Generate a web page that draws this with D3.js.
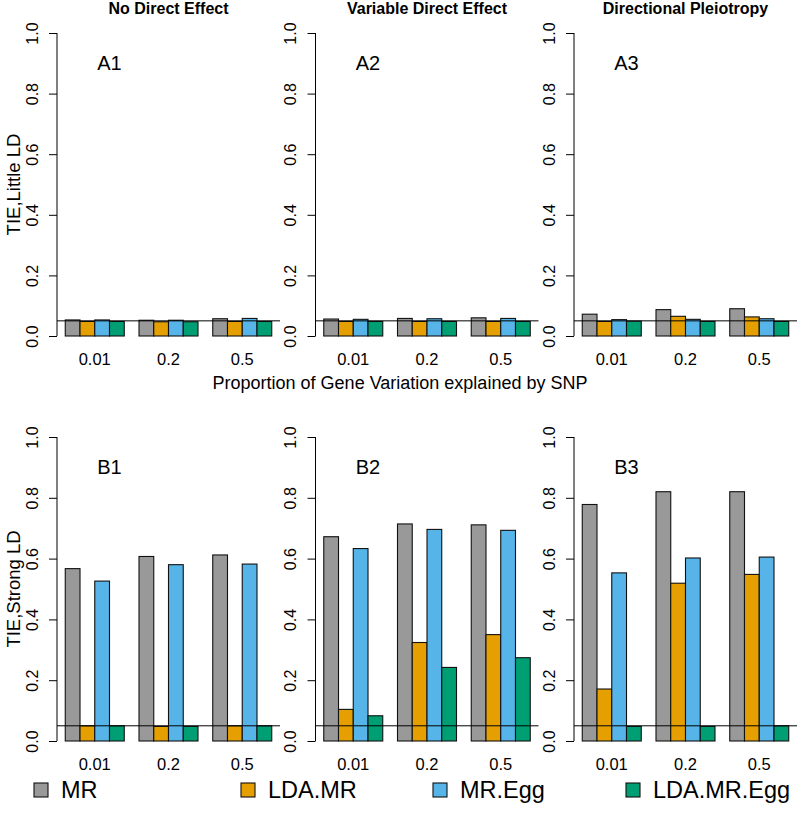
<!DOCTYPE html>
<html>
<head>
<meta charset="utf-8">
<script src="https://cdn.jsdelivr.net/npm/d3@7"></script>
<style>
  html, body { margin: 0; padding: 0; background: #fff; }
  svg { display: block; font-family: "Liberation Sans", Arial, sans-serif; }
</style>
</head>
<body>
<svg id="chart" width="800" height="813"></svg>
<script>
// ---------------- data ----------------
const groups = ["0.01", "0.2", "0.5"];
const series = ["MR", "LDA.MR", "MR.Egg", "LDA.MR.Egg"];
const seriesColors = ["#999999", "#E69F00", "#56B4E9", "#009E73"];
const panelTitles = ["No Direct Effect", "Variable Direct Effect", "Directional Pleiotropy"];
const rowLabels = ["TIE,Little LD", "TIE,Strong LD"];
const panelTags = [["A1", "A2", "A3"], ["B1", "B2", "B3"]];
const yTicks = [0, 0.2, 0.4, 0.6, 0.8, 1.0];
const threshold = 0.05;
const xTitle = "Proportion of Gene Variation explained by SNP";

// values[group][series]
const A1 = [[0.053, 0.048, 0.053, 0.048], [0.052, 0.047, 0.052, 0.047], [0.057, 0.048, 0.058, 0.048]];
const A2 = [[0.056, 0.048, 0.055, 0.048], [0.058, 0.048, 0.057, 0.048], [0.060, 0.048, 0.058, 0.048]];
const A3 = [[0.072, 0.048, 0.054, 0.049], [0.087, 0.065, 0.055, 0.048], [0.090, 0.063, 0.057, 0.048]];
const B1 = [[0.567, 0.050, 0.526, 0.050], [0.607, 0.048, 0.580, 0.048], [0.612, 0.050, 0.582, 0.050]];
const B2 = [[0.672, 0.104, 0.633, 0.083], [0.714, 0.324, 0.696, 0.242], [0.711, 0.350, 0.693, 0.274]];
const B3 = [[0.778, 0.171, 0.553, 0.048], [0.820, 0.519, 0.602, 0.048], [0.820, 0.548, 0.605, 0.050]];
const panelData = [[A1, A2, A3], [B1, B2, B3]];

// ---------------- layout ----------------
const svg = d3.select("#chart");
const colLefts = [57, 315.5, 574];
const plotW = 223;
const rowY = [{ bottom: 336, top: 33 }, { bottom: 741, top: 437 }];
const FONT = "\"Liberation Sans\", Arial, sans-serif";

rowY.forEach((ry, r) => {
  const y = d3.scaleLinear().domain([0, 1]).range([ry.bottom, ry.top]);

  // row y title
  svg.append("text")
    .attr("transform", `translate(13,${(ry.top + ry.bottom) / 2}) rotate(-90)`)
    .attr("text-anchor", "middle")
    .attr("dominant-baseline", "central")
    .attr("font-size", 18.5)
    .attr("fill", "#000")
    .text(rowLabels[r]);

  colLefts.forEach((left, c) => {
    const data = panelData[r][c];
    const xg = d3.scaleBand().domain(groups).range([left, left + plotW])
      .paddingInner(0.2).paddingOuter(0.112);
    const xs = d3.scaleBand().domain(series).range([0, xg.bandwidth()]).padding(0);
    const color = d3.scaleOrdinal().domain(series).range(seriesColors);

    const g = svg.append("g");

    // bars
    groups.forEach((grp, gi) => {
      g.selectAll(null)
        .data(series.map((s, si) => ({ s, v: data[gi][si] })))
        .join("rect")
        .attr("x", d => xg(grp) + xs(d.s))
        .attr("y", d => y(d.v))
        .attr("width", xs.bandwidth())
        .attr("height", d => y(0) - y(d.v))
        .attr("fill", d => color(d.s))
        .attr("stroke", "#111")
        .attr("stroke-width", 1.1);
    });

    // threshold line across plot region
    g.append("line")
      .attr("x1", left).attr("x2", left + plotW)
      .attr("y1", y(threshold)).attr("y2", y(threshold))
      .attr("stroke", "#000").attr("stroke-width", 1);

    // y axis
    const axis = d3.axisLeft(y).tickValues(yTicks).tickFormat(d3.format(".1f")).tickSize(8).tickPadding(0);
    const ax = svg.append("g").attr("transform", `translate(${left},0)`).call(axis);
    ax.select(".domain").attr("d", `M0,${y(0)}V${y(1)}`).attr("stroke", "#000");
    ax.selectAll(".tick line").attr("stroke", "#000");
    ax.selectAll(".tick text")
      .attr("font-family", FONT)
      .attr("font-size", 16)
      .attr("fill", "#000")
      .attr("text-anchor", "middle")
      .attr("dominant-baseline", "central")
      .attr("x", 0).attr("dy", null)
      .attr("transform", "translate(-25,0) rotate(-90)");

    // group labels
    svg.selectAll(null)
      .data(groups)
      .join("text")
      .attr("x", d => xg(d) + xg.bandwidth() / 2)
      .attr("y", y(0) + 23)
      .attr("text-anchor", "middle")
      .attr("dominant-baseline", "central")
      .attr("font-size", 16.5)
      .attr("fill", "#000")
      .text(d => d);

    // panel tag
    svg.append("text")
      .attr("x", xg(groups[0]) + xs.bandwidth() * 3)
      .attr("y", y(0.9))
      .attr("text-anchor", "middle")
      .attr("dominant-baseline", "central")
      .attr("font-size", 20)
      .attr("fill", "#000")
      .text(panelTags[r][c]);

    // column titles on top row
    if (r === 0) {
      svg.append("text")
        .attr("x", left + plotW / 2)
        .attr("y", 14)
        .attr("text-anchor", "middle")
        .attr("font-size", 16)
        .attr("font-weight", "bold")
        .attr("fill", "#000")
        .text(panelTitles[c]);
    }
  });
});

// x title
svg.append("text")
  .attr("x", 400).attr("y", 383)
  .attr("text-anchor", "middle")
  .attr("dominant-baseline", "central")
  .attr("font-size", 18)
  .attr("fill", "#000")
  .text(xTitle);

// legend
const legendX = [41, 248, 440, 633];
const legend = svg.append("g");
series.forEach((s, i) => {
  legend.append("rect")
    .attr("x", legendX[i] - 7).attr("y", 783)
    .attr("width", 14).attr("height", 14)
    .attr("fill", seriesColors[i])
    .attr("stroke", "#111").attr("stroke-width", 1.1);
  legend.append("text")
    .attr("x", legendX[i] + 20).attr("y", 790)
    .attr("dominant-baseline", "central")
    .attr("font-size", 23.5)
    .attr("fill", "#000")
    .text(s);
});
</script>
</body>
</html>
